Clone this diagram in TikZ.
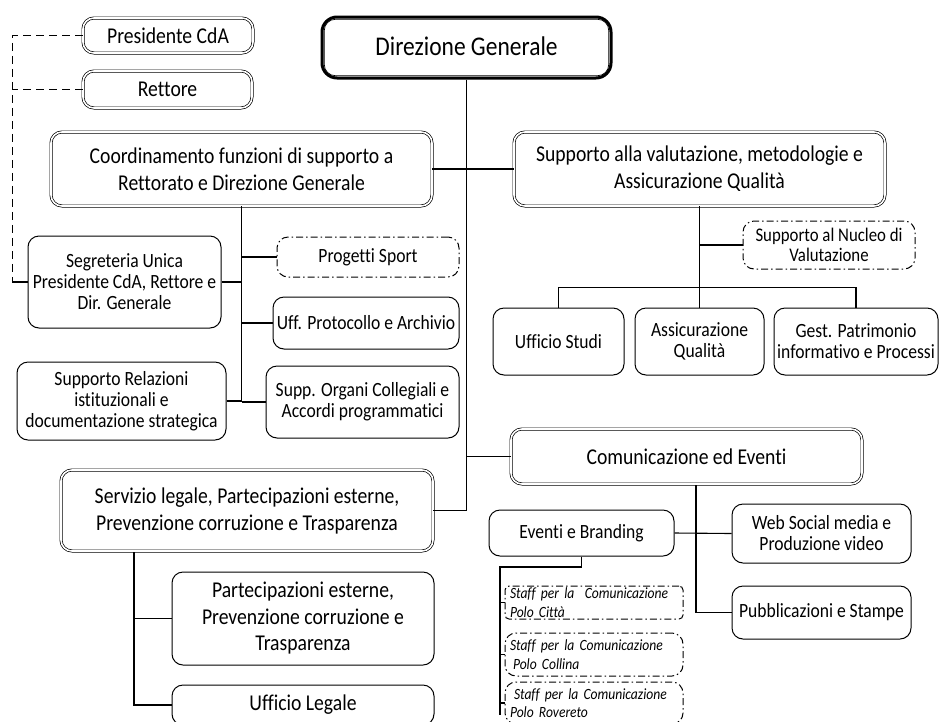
\documentclass[tikz,border=0pt]{standalone}
\usepackage{fontspec}
\setmainfont{Carlito}[FakeStretch=0.87, Ligatures=NoCommon]
\begin{document}
\begin{tikzpicture}[x=1pt,y=-1pt,
  base/.style={draw, rounded corners=11pt, align=center, inner sep=2pt, line width=1pt},
  dbl/.style={base, double=white, double distance=1.6pt, line width=0.7pt},
  topbox/.style={draw, rounded corners=15pt, align=center, line width=3pt},
  sgl/.style={base},
  dd/.style={base, dash pattern=on 7pt off 3pt on 1.5pt off 3pt},
  conn/.style={line width=1.1pt},
  fbig/.style={font=\fontsize{27}{30}\selectfont},
  fmed/.style={font=\fontsize{22.6}{27}\selectfont},
  fpr/.style={font=\fontsize{22.6}{25}\selectfont},
  fsm/.style={font=\fontsize{20.2}{21}\selectfont},
  fnuc/.style={font=\fontsize{19.3}{20}\selectfont},
  fst/.style={font=\fontsize{15.6}{18.5}\selectfont\itshape},
  staffbox/.style={dd, align=left, text width=168pt, inner xsep=5pt, inner ysep=0pt},
  wh/.style 2 args={minimum width=#1pt, minimum height=#2pt}
]
\useasboundingbox (0,0) rectangle (939,721);

% top level
\node[topbox, fbig, wh={289}{61}] (dg) at (466.5,47.5) {\raisebox{3pt}{Direzione Generale}};
\draw[line width=0.7pt, rounded corners=11pt] ([shift={(3.8,3.8)}]dg.north west) rectangle ([shift={(-3.8,-3.8)}]dg.south east);
\node[dbl, fpr, wh={170}{35}] (pres) at (168,35.5) {Presidente CdA};
\node[dbl, fpr, wh={169}{37}] (rett) at (167.5,89.5) {Rettore};

% second level
\node[dbl, fmed, wh={381}{74}] (coord) at (241.5,169) {Coordinamento funzioni di supporto a\\Rettorato e Direzione Generale};
\node[dbl, fmed, wh={371}{74}] (supval) at (699.5,169) {Supporto alla valutazione, metodologie e\\Assicurazione Qualità};
\node[dbl, fmed, wh={351}{55}] (com) at (686.5,456.5) {Comunicazione ed Eventi};
\node[dbl, fmed, wh={372}{81}] (serv) at (247,510.5) {Servizio legale, Partecipazioni esterne,\\Prevenzione corruzione e Trasparenza};

% supval children
\node[dd, fnuc, wh={172}{48}] (nucleo) at (829,245) {Supporto al Nucleo di\\Valutazione};
\node[sgl, fsm, wh={131}{67}] (ustudi) at (558.5,341.5) {Ufficio Studi};
\node[sgl, fsm, wh={129}{67}] (assic) at (699.5,341.5) {Assicurazione\\Qualità};
\node[sgl, fsm, wh={164}{67}, inner sep=0pt] (gest) at (856,341.5) {Gest. Patrimonio\\informativo e Processi};

% coord children
\node[dd, fsm, wh={182}{40}] (progetti) at (368,257) {Progetti Sport};
\node[sgl, fsm, wh={193}{92}] (segr) at (124.5,282) {Segreteria Unica\\Presidente CdA, Rettore e\\Dir. Generale};
\node[sgl, fsm, wh={186}{52}, inner sep=0pt] (uff) at (366,323) {Uff. Protocollo e Archivio};
\node[sgl, fsm, wh={209}{78}] (suprel) at (121.5,401) {Supporto Relazioni\\istituzionali e\\documentazione strategica};
\node[sgl, fsm, wh={193}{72}] (supporg) at (362.5,402) {Supp. Organi Collegiali e\\Accordi programmatici};

% com children
\node[sgl, fsm, wh={185}{46}] (eventi) at (581.5,533) {Eventi e Branding};
\node[sgl, fsm, wh={179}{59}] (web) at (821.5,533.5) {Web Social media e\\Produzione video};
\node[sgl, fsm, wh={179}{53}] (pubb) at (821.5,612.5) {Pubblicazioni e Stampe};
\node[staffbox, fst, rounded corners=4pt, minimum height=33pt] (staff1) at (594,602.5) {Staff per la~~Comunicazione\\Polo Città};
\node[staffbox, fst, minimum height=43pt] (staff2) at (594,654.5) {Staff per la Comunicazione\\\hspace*{3pt}Polo Collina};
\node[staffbox, fst, minimum height=42pt] (staff3) at (594,703) {\hspace*{4pt}Staff per la Comunicazione\\Polo Rovereto};

% serv children
\node[sgl, font=\fontsize{22.6}{26.5}\selectfont, wh={262}{93}] (parte) at (303,618.5) {Partecipazioni esterne,\\Prevenzione corruzione e\\Trasparenza};
\node[sgl, fmed, wh={262}{40}] (ulegale) at (303,705) {Ufficio Legale};

% connectors: trunk
\draw[conn] (dg.south) -- (dg.south |- serv.east);
\draw[conn] (coord.east) -- (coord.east -| dg.south);
\draw[conn] (supval.west) -- (supval.west -| dg.south);
\draw[conn] (com.west) -- (com.west -| dg.south);
\draw[conn] (serv.east) -- (serv.east -| dg.south);

% dashed links
\coordinate (dl) at (12,282);
\draw[conn, line width=1pt, dash pattern=on 8pt off 5pt] (pres.west) -| (dl);
\draw[conn, line width=1pt, dash pattern=on 8pt off 5pt] (rett.west) -- (rett.west -| dl);
\draw[conn] (dl) -- (segr.west);

% coord children
\draw[conn] (coord.south) -- (coord.south |- supporg.west);
\draw[conn] (progetti.west) -- (progetti.west -| coord.south);
\draw[conn] (segr.east) -- (segr.east -| coord.south);
\draw[conn] (uff.west) -- (uff.west -| coord.south);
\draw[conn] (supporg.west) -- (supporg.west -| coord.south);
\draw[conn] (suprel.east) -- (suprel.east -| coord.south);

% supval children
\draw[conn] (supval.south) -- (assic.north);
\draw[conn] (ustudi.north) -- ++(0,-20) -| (gest.north);
\draw[conn] (nucleo.west) -- (nucleo.west -| supval.south);

% com children
\coordinate (cv) at (696,485);
\draw[conn] (cv) -- (cv |- pubb.west) -- (pubb.west);
\draw[conn] (eventi.east) -- (web.west);

% eventi children
\coordinate (ev) at (500,567);
\coordinate (evend) at (500,715);
\draw[conn] (eventi.south) |- (ev) -- (evend);
\draw[conn] (staff1.west -| ev) -- (staff1.west);
\draw[conn] (staff2.west -| ev) -- (staff2.west);
\draw[conn] (staff3.west -| ev) -- (staff3.west);

% serv children
\coordinate (sv) at (134,552);
\draw[conn] (sv) -- (sv |- ulegale.west) -- (ulegale.west);
\draw[conn] (parte.west -| sv) -- (parte.west);
\end{tikzpicture}
\end{document}
